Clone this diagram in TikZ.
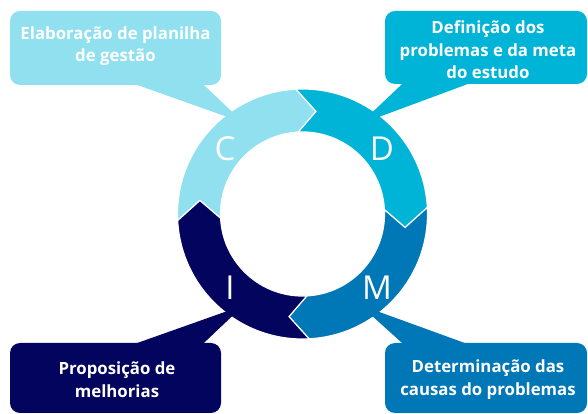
\documentclass[tikz,border=0pt]{standalone}
\usepackage{fontspec}
\setmainfont{Open Sans}
\usetikzlibrary{calc}
\definecolor{cC}{HTML}{90E0EF}
\definecolor{cD}{HTML}{00B4D8}
\definecolor{cM}{HTML}{0077B6}
\definecolor{cI}{HTML}{03045E}
\newcommand\ringseg[2]{%
  \fill[#1, draw=white, line width=1.2pt]
    ($(O)+(#2:125pt)$) arc[start angle=#2, end angle={#2-90}, radius=125pt]
    -- ($(O)+({#2-100.5}:103.5pt)$)
    -- ($(O)+({#2-90}:82pt)$) arc[start angle={#2-90}, end angle=#2, radius=82pt]
    -- ($(O)+({#2-10.5}:103.5pt)$) -- cycle;}
\tikzset{
  calloutbox/.style={rounded corners=10pt, inner sep=0pt, minimum width=#1},
  callouttext/.style={text=white, align=center, inner sep=0pt, font=\bfseries\fontsize{16.8}{22.5}\selectfont},
  ringletter/.style={text=white, inner sep=0pt, font=\fontsize{33}{40}\selectfont}
}
\begin{document}
\begin{tikzpicture}[x=1pt,y=1pt]
\useasboundingbox (0,0) rectangle (588,414);
\coordinate (O) at (302.5,200);
% ring
\ringseg{cC}{183}
\ringseg{cD}{93}
\ringseg{cM}{3}
\ringseg{cI}{-87}
% callouts
\coordinate (pC) at (243.6,291.3);
\coordinate (pD) at (360,290);
\coordinate (pI) at (243.6,108.7);
\coordinate (pM) at (360,109);
\node[calloutbox=211pt, minimum height=74pt, fill=cC] (bC) at (115.5,366) {};
\node[calloutbox=202pt, minimum height=73pt, fill=cD] (bD) at (486,366.5) {};
\node[calloutbox=211pt, minimum height=70pt, fill=cI] (bI) at (115.5,36) {};
\node[calloutbox=202pt, minimum height=70pt, fill=cM] (bM) at (486,36) {};
\fill[cC] ([xshift=19.5pt,yshift=1pt]bC.south) -- ([xshift=87.5pt,yshift=1pt]bC.south) -- (pC) -- cycle;
\fill[cD] ([xshift=-83pt,yshift=1pt]bD.south) -- ([xshift=-16pt,yshift=1pt]bD.south) -- (pD) -- cycle;
\fill[cI] ([xshift=19.5pt,yshift=-1pt]bI.north) -- ([xshift=87.5pt,yshift=-1pt]bI.north) -- (pI) -- cycle;
\fill[cM] ([xshift=-83pt,yshift=-1pt]bM.north) -- ([xshift=-19pt,yshift=-1pt]bM.north) -- (pM) -- cycle;
\node[callouttext] (tC) at (115.5,368) {Elaboração de planilha\\de gestão};
\node[callouttext] (tD) at (488,364) {Definição dos\\problemas e da meta\\do estudo};
\node[callouttext] (tI) at (117,34.5) {Proposição de\\melhorias};
\node[callouttext] (tM) at (488,34.5) {Determinação das\\causas do problemas};
% letters
\node[ringletter] (lC) at (225,265) {C};
\node[ringletter] (lD) at (382,265) {D};
\node[ringletter] (lI) at (230,126) {I};
\node[ringletter] (lM) at (377,126) {M};
\end{tikzpicture}
\end{document}
